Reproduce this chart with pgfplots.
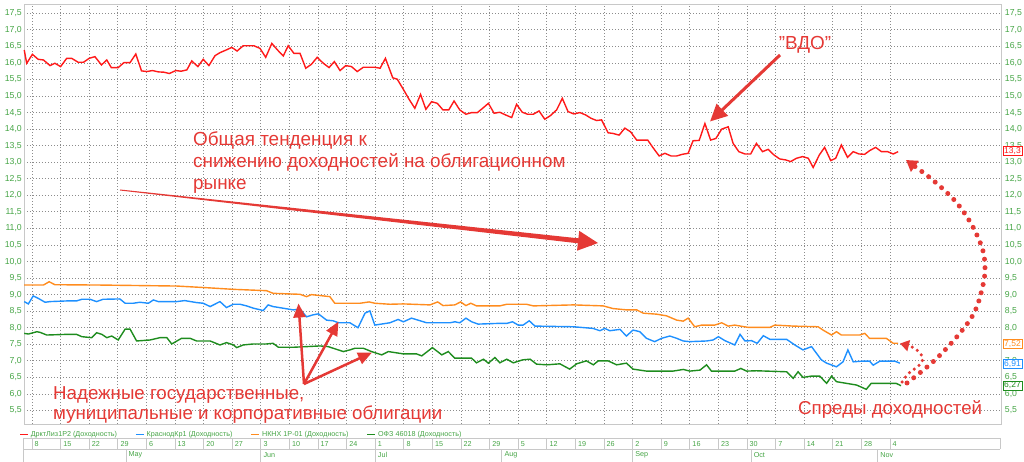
\documentclass[border=0pt]{standalone}
\usepackage{fontspec}
\setmainfont{Liberation Sans}
\usepackage{pgfplots}
\pgfplotsset{compat=1.18}
\usetikzlibrary{arrows.meta}

\definecolor{sred}{RGB}{255,25,25}
\definecolor{sblue}{RGB}{30,144,255}
\definecolor{sorange}{RGB}{255,140,30}
\definecolor{sgreen}{RGB}{30,140,30}
\definecolor{anno}{RGB}{229,57,53}
\definecolor{lbl}{RGB}{70,165,70}
\definecolor{gridc}{RGB}{140,140,140}
\definecolor{framec}{RGB}{200,200,200}

\pgfplotsset{
  commonax/.style={
    at={(24pt,38pt)}, anchor=south west,
    scale only axis, width=976.7pt, height=420pt,
    xmin=-1.96, xmax=237.1, ymin=5.092, ymax=17.781,
    major tick length=0pt,
    ytick={5.5,6.0,6.5,7.0,7.5,8.0,8.5,9.0,9.5,10.0,10.5,11.0,11.5,12.0,12.5,13.0,13.5,14.0,14.5,15.0,15.5,16.0,16.5,17.0,17.5},
    /pgf/number format/assume math mode=true,
    yticklabel style={font=\fontsize{8.7}{9}\selectfont, text=lbl, inner sep=0pt,
      /pgf/number format/fixed, /pgf/number format/fixed zerofill,
      /pgf/number format/precision=1, /pgf/number format/use comma},
  }
}

\begin{document}
\begin{tikzpicture}
\useasboundingbox (0,0) rectangle (1024pt,462pt);
\begin{axis}[commonax,
  axis line style={draw=framec},
  ytick pos=left, yticklabel pos=left,
  yticklabel style={anchor=east, xshift=-2pt},
  xtick pos=bottom,
  xtick={0,7,...,210},
  xticklabels={8,15,22,29,6,13,20,27,3,10,17,24,1,8,15,22,29,5,12,19,26,2,9,16,23,30,7,14,21,28,4},
  xticklabel style={anchor=west, xshift=2.5pt, yshift=-20pt, font=\fontsize{7.2}{8}\selectfont, text=lbl, inner sep=0pt},
  extra x ticks={23,56,84,115,147,176,207},
  extra x tick labels={May,Jun,Jul,Aug,Sep,Oct,Nov},
  extra x tick style={grid=none, xticklabel style={yshift=-11pt}},
  grid=major, major grid style={gridc, dash pattern=on 1.1pt off 1.9pt, line width=0.8pt},
  clip=false,
  legend style={at={(-0.0051,-0.0119)}, anchor=north west, draw=none, fill=none, inner sep=0pt,
    font=\fontsize{7.2}{8}\selectfont, text=lbl, /tikz/every even column/.append style={column sep=16pt}},
  legend columns=4,
  legend image code/.code={\draw[#1, line width=1.6pt] (0pt,0pt) -- (8pt,0pt);},
]
\addplot[sred, line width=1.4pt, no marks] coordinates {
(-1.9,16.39) (-1.3,15.99) (0.1,16.26) (1.5,16.11) (2.8,16.09) (4.4,15.92) (5.6,15.99) (7.0,15.89) (8.5,16.14) (9.7,16.14) (11.3,16.02) (12.6,16.02) (14.0,16.14) (15.4,16.19) (17.0,15.94) (18.3,16.09) (19.4,15.86) (21.1,15.86) (22.5,16.01) (24.0,16.01) (25.4,16.27) (26.8,15.76) (28.1,15.74) (29.5,15.77) (30.9,15.73) (32.3,15.72) (33.6,15.68) (35.2,15.77) (36.5,15.75) (37.9,15.79) (39.1,16.06) (40.6,15.89) (41.9,16.11) (43.3,15.92) (44.8,16.22) (46.0,16.31) (47.5,16.39) (48.9,16.47) (50.2,16.36) (51.7,16.52) (53.1,16.52) (54.3,16.52) (55.8,16.44) (57.2,16.17) (58.7,16.59) (60.1,16.39) (61.5,16.21) (62.7,16.52) (64.1,16.29) (65.6,16.29) (67.0,15.84) (68.4,15.96) (69.8,16.17) (71.3,15.99) (72.7,15.86) (74.0,16.04) (75.4,15.77) (76.8,15.92) (78.2,15.89) (79.6,15.74) (81.1,15.87) (82.5,15.87) (83.9,15.87) (85.2,15.84) (86.5,16.14) (88.3,15.55) (89.4,15.51) (90.9,15.20) (92.3,14.90) (93.7,14.63) (95.1,15.05) (96.4,14.60) (97.8,14.83) (99.2,14.78) (100.6,14.58) (102.0,14.58) (103.3,14.85) (104.7,14.58) (106.2,14.45) (107.6,14.50) (109.0,14.50) (110.3,14.63) (111.7,14.78) (113.1,14.48) (114.5,14.51) (115.9,14.43) (117.4,14.35) (118.6,14.75) (120.0,14.51) (121.3,14.45) (122.7,14.45) (124.1,14.55) (125.5,14.30) (126.9,14.41) (128.4,14.58) (129.8,14.93) (131.2,14.53) (132.6,14.46) (134.1,14.50) (135.5,14.43) (136.8,14.33) (138.2,14.26) (139.4,14.28) (141.0,13.89) (142.2,13.87) (143.7,13.82) (145.1,14.03) (146.5,13.92) (148.0,13.67) (149.3,13.67) (150.7,13.67) (152.0,13.44) (153.5,13.19) (154.9,13.27) (156.4,13.19) (157.8,13.19) (159.2,13.24) (160.6,13.27) (161.8,13.65) (163.3,13.66) (164.7,14.17) (166.1,13.67) (167.4,13.72) (168.8,14.00) (170.4,14.07) (171.6,13.57) (173.0,13.32) (174.5,13.25) (175.9,13.25) (177.3,13.57) (178.8,13.32) (180.2,13.39) (181.6,13.22) (183.0,13.10) (184.5,13.07) (185.7,13.02) (187.1,13.12) (188.6,13.17) (190.0,13.12) (191.2,12.84) (192.7,13.22) (194.0,13.45) (195.5,13.05) (196.7,13.12) (198.1,13.52) (199.6,13.15) (201.0,13.32) (202.4,13.25) (203.8,13.24) (205.0,13.35) (206.5,13.45) (207.9,13.32) (209.4,13.32) (210.8,13.25) (212.0,13.32)
};
\addlegendentry{ДрктЛиз1Р2 (Доходность)}
\addplot[sblue, line width=1.4pt, no marks] coordinates {
(-1.9,8.79) (-0.9,8.72) (0.3,8.96) (1.5,8.89) (3.2,8.77) (4.4,8.79) (8.5,8.81) (10.9,8.81) (12.2,8.86) (14.2,8.86) (15.8,8.79) (17.4,8.86) (21.5,8.87) (22.8,8.74) (24.8,8.74) (26.4,8.77) (28.5,8.74) (29.7,8.84) (30.9,8.79) (35.4,8.79) (37.4,8.82) (40.3,8.76) (41.9,8.74) (43.6,8.64) (46.0,8.79) (47.6,8.61) (49.3,8.71) (50.9,8.71) (52.5,8.66) (54.2,8.59) (56.6,8.52) (57.8,8.69) (59.0,8.64) (61.5,8.59) (63.9,8.54) (65.6,8.56) (67.2,8.33) (68.8,8.39) (70.1,8.42) (72.1,8.23) (73.7,8.21) (75.0,8.15) (77.8,8.15) (79.8,8.00) (81.5,8.44) (82.7,8.51) (83.9,8.08) (87.6,8.15) (89.6,8.25) (90.9,8.18) (92.9,8.29) (96.6,8.15) (102.3,8.15) (103.5,8.18) (104.7,8.15) (106.2,8.29) (107.6,8.18) (109.2,8.11) (113.7,8.13) (116.2,8.13) (117.6,8.18) (119.0,8.08) (120.2,8.08) (121.7,8.21) (123.1,8.05) (132.5,8.03) (137.3,7.98) (139.0,7.91) (140.2,7.98) (141.4,7.91) (143.9,7.95) (145.5,7.75) (147.1,7.93) (148.8,7.88) (150.4,7.68) (152.4,7.58) (154.1,7.68) (156.1,7.75) (157.8,7.68) (159.4,7.60) (161.0,7.58) (165.1,7.60) (166.7,7.63) (168.0,7.73) (169.6,7.61) (172.0,7.48) (173.3,7.80) (174.5,7.60) (176.1,7.61) (177.5,7.53) (179.0,7.76) (180.6,7.65) (184.7,7.65) (186.7,7.48) (188.7,7.33) (190.8,7.43) (193.2,7.03) (194.5,6.93) (196.9,6.82) (198.5,6.97) (199.7,7.33) (201.0,6.97) (203.0,6.99) (205.0,6.99) (205.9,6.87) (207.5,6.99) (211.2,6.99) (212.4,6.93)
};
\addlegendentry{КраснодКр1 (Доходность)}
\addplot[sorange, line width=1.4pt, no marks] coordinates {
(-1.9,9.29) (2.8,9.29) (4.2,9.39) (5.6,9.30) (16.6,9.29) (35.4,9.26) (42.7,9.21) (49.3,9.16) (57.4,9.12) (59.0,9.04) (65.6,9.01) (67.2,8.94) (68.4,9.00) (72.9,8.94) (74.1,8.74) (80.3,8.74) (82.5,8.78) (83.9,8.74) (87.6,8.71) (90.9,8.72) (97.4,8.69) (99.3,8.78) (100.6,8.67) (103.5,8.69) (104.9,8.78) (106.2,8.67) (107.4,8.74) (108.8,8.66) (114.5,8.66) (116.2,8.71) (121.0,8.71) (122.7,8.66) (132.5,8.69) (139.8,8.66) (142.2,8.58) (145.5,8.54) (148.0,8.54) (149.6,8.44) (152.9,8.41) (155.3,8.36) (157.8,8.23) (159.4,8.20) (160.6,8.29) (162.2,8.03) (163.9,8.08) (167.1,8.08) (168.8,8.15) (170.4,8.05) (172.0,8.08) (175.3,8.01) (180.6,8.01) (181.8,8.08) (186.3,8.05) (192.4,8.03) (193.6,7.93) (195.7,7.78) (196.9,7.88) (198.1,7.78) (202.6,7.78) (203.8,7.83) (205.0,7.68) (209.1,7.68) (210.8,7.53) (212.0,7.53)
};
\addlegendentry{НКНХ 1P-01 (Доходность)}
\addplot[sgreen, line width=1.4pt, no marks] coordinates {
(-1.9,7.83) (-0.9,7.81) (1.2,7.88) (2.0,7.86) (3.6,7.78) (8.5,7.80) (10.9,7.80) (12.2,7.73) (14.6,7.70) (15.8,7.85) (17.1,7.80) (18.3,7.70) (19.5,7.75) (21.1,7.63) (22.8,7.96) (24.0,7.96) (25.6,7.60) (28.9,7.63) (31.3,7.70) (33.0,7.70) (34.2,7.51) (36.6,7.68) (38.7,7.68) (40.3,7.60) (43.6,7.60) (46.0,7.48) (47.6,7.55) (49.3,7.48) (50.1,7.40) (51.7,7.48) (54.2,7.51) (57.4,7.51) (59.0,7.53) (60.3,7.41) (63.9,7.41) (70.5,7.45) (72.5,7.43) (76.2,7.28) (77.8,7.33) (79.0,7.38) (81.1,7.38) (83.1,7.28) (85.6,7.18) (87.2,7.28) (90.9,7.21) (94.1,7.21) (95.4,7.15) (98.0,7.40) (100.3,7.18) (101.9,7.28) (103.5,7.08) (107.6,7.08) (108.8,6.94) (110.5,7.05) (111.7,6.93) (113.3,7.10) (114.5,6.94) (116.2,7.05) (117.8,6.94) (120.1,7.03) (121.9,7.05) (123.5,6.90) (126.0,6.88) (129.2,6.91) (131.6,6.75) (133.3,6.91) (135.7,7.00) (137.4,6.88) (138.6,7.00) (141.0,7.00) (143.1,6.88) (145.5,6.93) (147.1,6.75) (150.4,6.69) (156.9,6.69) (159.4,6.74) (161.0,6.69) (163.5,6.72) (165.1,6.88) (166.3,6.69) (172.0,6.69) (173.5,6.77) (174.9,6.69) (177.3,6.70) (184.7,6.67) (186.3,6.47) (187.5,6.67) (188.7,6.50) (190.8,6.54) (192.8,6.54) (194.5,6.32) (195.7,6.54) (196.9,6.37) (201.8,6.27) (204.2,6.14) (205.4,6.32) (211.5,6.32) (212.7,6.25)
};
\addlegendentry{ОФЗ 46018 (Доходность)}
\end{axis}

\begin{axis}[commonax,
  hide x axis, axis y line*=right, y axis line style={draw=none},
  yticklabel style={anchor=west, xshift=4pt},
]
\end{axis}

\begin{scope}[x=1pt,y=1pt]
% date strip
\draw[framec, line width=0.8pt] (23,24) -- (1000,24);
\draw[framec, line width=0.8pt] (23,12.5) -- (1000,12.5);
\draw[framec, line width=0.8pt] (23,24) -- (23,0);
\draw[framec, line width=0.8pt] (1000,24) -- (1000,12.5);
\foreach \d in {0,7,...,210} \draw[framec, line width=0.8pt] ({32+\d*4.0856},24) -- ({32+\d*4.0856},12.5);
\foreach \d in {23,56,84,115,147,176,207} \draw[framec, line width=0.8pt] ({32+\d*4.0856},12.5) -- ({32+\d*4.0856},0);

% last-value boxes
\node[draw=sred, fill=white, text=sred, font=\fontsize{8.5}{9}\selectfont, inner sep=1pt, anchor=west] at (1003,311) {13,3};
\node[draw=sorange, fill=white, text=sorange, font=\fontsize{8.5}{9}\selectfont, inner sep=1pt, anchor=west] at (1003,118) {7,52};
\node[draw=sblue, fill=white, text=sblue, font=\fontsize{8.5}{9}\selectfont, inner sep=1pt, anchor=west] at (1003,98) {6,91};
\node[draw=sgreen, fill=white, text=sgreen, font=\fontsize{8.5}{9}\selectfont, inner sep=1pt, anchor=west] at (1003,76.5) {6,27};

% trend arrow
\fill[anno] (120.06,272.5) -- (578.40,223.68) -- (579.22,231.14) -- (598,219) -- (577.02,211.26) -- (577.84,218.72) -- (119.94,271.5) -- cycle;
\node[anchor=base west, text=anno, font=\fontsize{18.9}{22}\selectfont, inner sep=0pt] at (193,316) {Общая тенденция к};
\node[anchor=base west, text=anno, font=\fontsize{18.9}{22}\selectfont, inner sep=0pt] at (193,294) {снижению доходностей на облигационном};
\node[anchor=base west, text=anno, font=\fontsize{18.9}{22}\selectfont, inner sep=0pt] at (193,272) {рынке};

% VDO
\node[text=anno, font=\fontsize{18.9}{22}\selectfont, inner sep=0pt] at (805,417) {"ВДО"};
\draw[anno, line width=3pt, -{Triangle[length=17pt,width=16pt]}] (780,407) -- (710,340.5);

% reliable bonds
\node[anchor=base west, text=anno, font=\fontsize{18.7}{22}\selectfont, inner sep=0pt] at (53,62) {Надежные государственные,};
\node[anchor=base west, text=anno, font=\fontsize{18.7}{22}\selectfont, inner sep=0pt] at (53,42) {муниципальные и корпоративные облигации};
\draw[anno, line width=2.5pt, -{Triangle[length=14pt,width=12pt]}] (304,78) -- (298.5,158.5);
\draw[anno, line width=2.5pt, -{Triangle[length=14pt,width=12pt]}] (304,78) -- (338.5,140.5);
\draw[anno, line width=2.5pt, -{Triangle[length=14pt,width=12pt]}] (304,78) -- (372,109.5);

% spreads
\node[anchor=base west, text=anno, font=\fontsize{18.7}{22}\selectfont, inner sep=0pt] at (798,47) {Спреды доходностей};
\draw[anno, line width=5pt, line cap=round, dash pattern=on 0pt off 8.5pt, -{Triangle[length=11pt,width=13pt]}]
  plot[smooth, tension=0.6] coordinates {(907,79) (935,102) (960,129) (975,151) (983,177) (985,194) (983,211) (976,229) (967,245) (956,260) (943,273) (929,285) (917,294) (906,302)};
\draw[anno, line width=3.5pt, line cap=round, dash pattern=on 0pt off 6pt, -{Triangle[length=9pt,width=11pt]}]
  plot[smooth, tension=0.6] coordinates {(902,80) (909,89) (916,94) (922,100) (922,106) (918,111) (912,115) (900,118.5)};
\end{scope}
\end{tikzpicture}
\end{document}
